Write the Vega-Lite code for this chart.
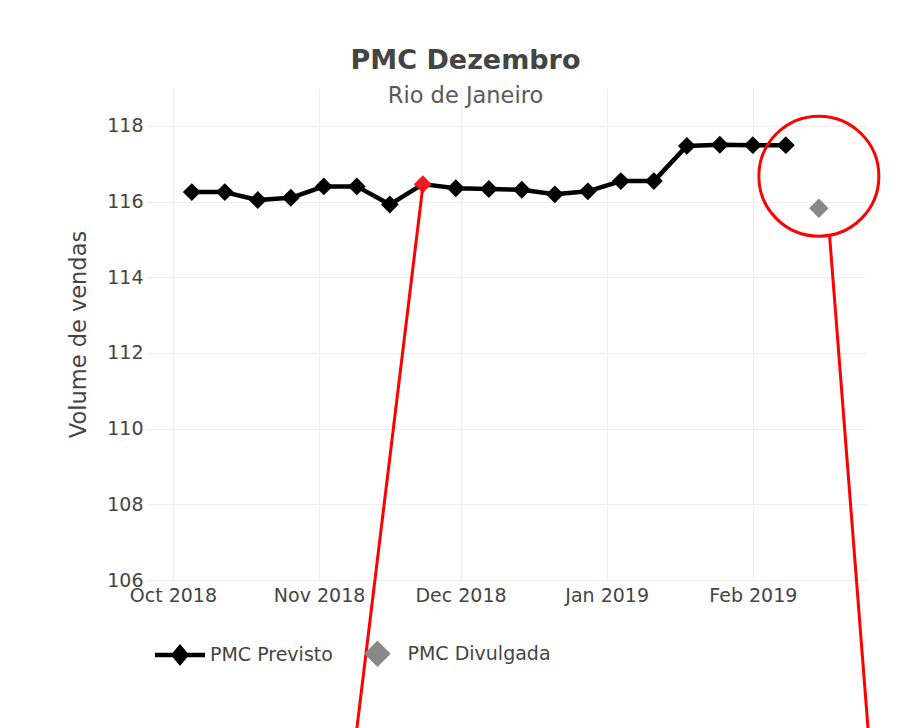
{
  "$schema": "https://vega.github.io/schema/vega-lite/v6.json",
  "width": 719,
  "height": 492,
  "autosize": {"type": "none"},
  "padding": {"left": 147, "top": 88, "right": 47, "bottom": 148},
  "background": "white",
  "config": {"view": {"stroke": null}, "font": "DejaVu Sans"},
  "title": {
    "text": "PMC Dezembro",
    "subtitle": "Rio de Janeiro",
    "font": "DejaVu Sans",
    "fontSize": 27,
    "fontWeight": "bold",
    "color": "#444444",
    "subtitleFont": "DejaVu Sans",
    "subtitleFontSize": 22.5,
    "subtitleColor": "#595959",
    "subtitlePadding": 10,
    "anchor": "middle",
    "frame": "group",
    "dx": -41,
    "offset": -20
  },
  "datasets": {
    "previsto": [
      {"data": "2018-10-05", "valor": 116.25, "serie": "PMC Previsto", "destaque": false},
      {"data": "2018-10-12", "valor": 116.25, "serie": "PMC Previsto", "destaque": false},
      {"data": "2018-10-19", "valor": 116.04, "serie": "PMC Previsto", "destaque": false},
      {"data": "2018-10-26", "valor": 116.10, "serie": "PMC Previsto", "destaque": false},
      {"data": "2018-11-02", "valor": 116.40, "serie": "PMC Previsto", "destaque": false},
      {"data": "2018-11-09", "valor": 116.40, "serie": "PMC Previsto", "destaque": false},
      {"data": "2018-11-16", "valor": 115.92, "serie": "PMC Previsto", "destaque": false},
      {"data": "2018-11-23", "valor": 116.46, "serie": "PMC Previsto", "destaque": true},
      {"data": "2018-11-30", "valor": 116.35, "serie": "PMC Previsto", "destaque": false},
      {"data": "2018-12-07", "valor": 116.33, "serie": "PMC Previsto", "destaque": false},
      {"data": "2018-12-14", "valor": 116.31, "serie": "PMC Previsto", "destaque": false},
      {"data": "2018-12-21", "valor": 116.19, "serie": "PMC Previsto", "destaque": false},
      {"data": "2018-12-28", "valor": 116.27, "serie": "PMC Previsto", "destaque": false},
      {"data": "2019-01-04", "valor": 116.54, "serie": "PMC Previsto", "destaque": false},
      {"data": "2019-01-11", "valor": 116.54, "serie": "PMC Previsto", "destaque": false},
      {"data": "2019-01-18", "valor": 117.47, "serie": "PMC Previsto", "destaque": false},
      {"data": "2019-01-25", "valor": 117.50, "serie": "PMC Previsto", "destaque": false},
      {"data": "2019-02-01", "valor": 117.49, "serie": "PMC Previsto", "destaque": false},
      {"data": "2019-02-08", "valor": 117.49, "serie": "PMC Previsto", "destaque": false}
    ],
    "divulgada": [
      {"data": "2019-02-15", "valor": 115.82, "serie": "PMC Divulgada"}
    ],
    "circulo": [
      {"data": "2019-02-15", "valor": 116.67}
    ],
    "setas": [
      {"data": "2018-11-23T00:00:00Z", "valor": 116.40, "data2": "2018-11-08T10:48:00Z", "valor2": 101.5},
      {"data": "2019-02-17T07:00:00Z", "valor": 115.07, "data2": "2019-02-25T19:00:00Z", "valor2": 101.5}
    ]
  },
  "encoding": {
    "x": {
      "field": "data",
      "type": "temporal",
      "scale": {
        "type": "utc",
        "domain": [
          {"year": 2018, "month": 9, "date": 25, "hours": 12, "utc": true},
          {"year": 2019, "month": 2, "date": 25, "utc": true}
        ]
      },
      "axis": {
        "title": null,
        "format": "%b %Y",
        "values": [
          {"year": 2018, "month": 10, "date": 1, "utc": true},
          {"year": 2018, "month": 11, "date": 1, "utc": true},
          {"year": 2018, "month": 12, "date": 1, "utc": true},
          {"year": 2019, "month": 1, "date": 1, "utc": true},
          {"year": 2019, "month": 2, "date": 1, "utc": true}
        ],
        "grid": true,
        "gridColor": "#eeeeee",
        "gridWidth": 1,
        "domain": false,
        "ticks": false,
        "labelFont": "DejaVu Sans",
        "labelFontSize": 19,
        "labelColor": "#444444",
        "labelPadding": 6,
        "labelFlush": false,
        "labelOverlap": false
      }
    },
    "y": {
      "field": "valor",
      "type": "quantitative",
      "scale": {"domain": [106, 119], "nice": false, "zero": false},
      "axis": {
        "title": "Volume de vendas",
        "values": [106, 108, 110, 112, 114, 116, 118],
        "grid": true,
        "gridColor": "#eeeeee",
        "gridWidth": 1,
        "domain": false,
        "ticks": false,
        "labelFont": "DejaVu Sans",
        "labelFontSize": 19,
        "labelColor": "#444444",
        "labelPadding": 4,
        "labelFlush": false,
        "titleFont": "DejaVu Sans",
        "titleFontSize": 22.5,
        "titleFontWeight": "normal",
        "titleColor": "#444444",
        "titlePadding": 16
      }
    }
  },
  "layer": [
    {
      "data": {"name": "previsto"},
      "mark": {"type": "line", "strokeWidth": 4.5, "strokeJoin": "round"},
      "encoding": {
        "color": {
          "field": "serie",
          "type": "nominal",
          "scale": {"domain": ["PMC Previsto", "PMC Divulgada"], "range": ["black", "#888888"]},
          "legend": {
            "title": null,
            "orient": "none",
            "direction": "horizontal",
            "legendX": 5.5,
            "legendY": 538,
            "padding": 0,
            "symbolSize": 2500,
            "symbolStrokeWidth": 4.5,
            "labelFont": "DejaVu Sans",
            "labelFontSize": 19,
            "labelColor": "#444444",
            "labelOffset": 2.5,
            "columnPadding": 16.5,
            "encode": {
              "symbols": {
                "update": {
                  "shape": {"signal": "datum.value === 'PMC Previsto' ? 'M-1,0L1,0M0,-0.3L0.25,0L0,0.3L-0.25,0Z' : 'M0,-0.4L0.4,0L0,0.4L-0.4,0Z'"},
                  "fill": {"signal": "datum.value === 'PMC Previsto' ? 'black' : '#888888'"},
                  "stroke": {"signal": "datum.value === 'PMC Previsto' ? 'black' : 'transparent'"},
                  "strokeWidth": {"value": 4.5},
                  "opacity": {"value": 1},
                  "size": {"value": 2500}
                }
              }
            }
          }
        }
      }
    },
    {
      "data": {"name": "previsto"},
      "mark": {"type": "point", "shape": "diamond", "filled": true, "size": 320, "opacity": 1},
      "encoding": {
        "color": {
          "condition": {"test": "datum.destaque", "value": "#ec1c24"},
          "value": "black"
        }
      }
    },
    {
      "data": {"name": "divulgada"},
      "mark": {"type": "point", "shape": "diamond", "filled": true, "size": 380, "opacity": 1},
      "encoding": {
        "color": {"field": "serie", "type": "nominal"}
      }
    },
    {
      "data": {"name": "circulo"},
      "mark": {"type": "point", "shape": "circle", "filled": false, "size": 14400, "stroke": "#ff0000", "strokeWidth": 3, "opacity": 1, "clip": false},
      "encoding": {}
    },
    {
      "data": {"name": "setas"},
      "mark": {"type": "rule", "color": "#ff0000", "strokeWidth": 3, "clip": false},
      "encoding": {
        "x2": {"field": "data2"},
        "y2": {"field": "valor2"}
      }
    }
  ]
}
